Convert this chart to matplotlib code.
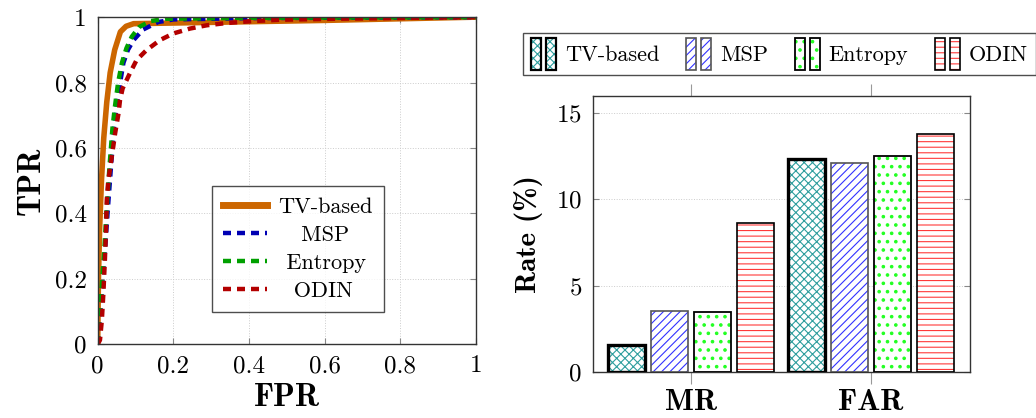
import numpy as np
import matplotlib
matplotlib.use("Agg")
import matplotlib.pyplot as plt
import matplotlib.hatch as mhatch
from matplotlib.patches import Rectangle
from matplotlib.legend_handler import HandlerBase
from matplotlib.ticker import FuncFormatter

plt.rcParams['font.family'] = ['cmr10', 'DejaVu Serif']
plt.rcParams['axes.formatter.use_mathtext'] = True
plt.rcParams['hatch.linewidth'] = 0.8
# slightly bigger dots for the '.' hatch
mhatch.SmallFilledCircles.size = 0.15

# ROC curves
fpr_tv = [0, 0.002, 0.005, 0.01, 0.016, 0.024, 0.033, 0.045, 0.06, 0.075, 0.095, 0.2, 0.4, 0.6, 0.8, 1.0]
tpr_tv = [0, 0.20, 0.35, 0.50, 0.63, 0.74, 0.83, 0.90, 0.955, 0.972, 0.98, 0.982, 0.986, 0.99, 0.995, 1.0]
fpr_msp = [0, 0.004, 0.009, 0.014, 0.019, 0.026, 0.035, 0.043, 0.05, 0.058, 0.068, 0.08, 0.095, 0.12, 0.16, 0.2, 0.4, 1.0]
tpr_msp = [0, 0.06, 0.12, 0.2, 0.28, 0.4, 0.54, 0.66, 0.73, 0.79, 0.86, 0.9, 0.93, 0.962, 0.985, 0.993, 0.997, 1.0]
fpr_ent = [0, 0.003, 0.007, 0.012, 0.017, 0.023, 0.031, 0.039, 0.046, 0.054, 0.064, 0.076, 0.09, 0.11, 0.14, 0.18, 0.4, 1.0]
tpr_ent = [0, 0.06, 0.12, 0.2, 0.28, 0.4, 0.54, 0.66, 0.73, 0.80, 0.86, 0.905, 0.94, 0.97, 0.988, 0.995, 0.998, 1.0]
fpr_odin = [0, 0.006, 0.011, 0.015, 0.019, 0.022, 0.024, 0.028, 0.041, 0.046, 0.055, 0.059, 0.066, 0.085,
            0.103, 0.129, 0.165, 0.2, 0.244, 0.288, 0.341, 0.412, 0.482, 0.623, 1.0]
tpr_odin = [0, 0.012, 0.073, 0.155, 0.257, 0.348, 0.44, 0.50, 0.603, 0.644, 0.705, 0.746, 0.782, 0.828,
            0.869, 0.899, 0.93, 0.95, 0.965, 0.975, 0.982, 0.988, 0.992, 0.995, 1.0]

# bar chart values (%)
metrics = ['MR', 'FAR']
methods = ['TV-based', 'MSP', 'Entropy', 'ODIN']
rate_tv = [1.55, 12.35]
rate_msp = [3.52, 12.1]
rate_ent = [3.47, 12.5]
rate_odin = [8.62, 13.8]

fig = plt.figure(figsize=(10.36, 4.18), dpi=100)

# ---------------- ROC ----------------
ax1 = fig.add_axes([0.0943, 0.177, 0.365, 0.782])
dash = (0, (1.8, 1.35))
ax1.plot(fpr_tv, tpr_tv, color='#CC6600', lw=4.0, label='TV-based', solid_joinstyle='round')
ax1.plot(fpr_msp, tpr_msp, color='#0000B3', lw=3.2, ls=dash, label='   MSP')
ax1.plot(fpr_ent, tpr_ent, color='#00A000', lw=3.2, ls=dash, label=' Entropy')
ax1.plot(fpr_odin, tpr_odin, color='#B30000', lw=3.2, ls=dash, label='  ODIN')
ax1.set_xlim(0, 1)
ax1.set_ylim(0, 1)
ticks = [0, 0.2, 0.4, 0.6, 0.8, 1]
ax1.set_xticks(ticks)
ax1.set_yticks(ticks)
fmt = FuncFormatter(lambda v, p: '%g' % v)
ax1.xaxis.set_major_formatter(fmt)
ax1.yaxis.set_major_formatter(fmt)
ax1.tick_params(direction='in', top=True, right=True, length=4.5, width=0.8,
                color='#888888', labelsize=18, pad=8)
ax1.grid(True, ls=':', color='#cccccc', lw=0.7)
for s in ax1.spines.values():
    s.set_color('#333333')
    s.set_linewidth(1.0)
ax1.set_xlabel('FPR', fontfamily='cmb10', fontsize=23, labelpad=4)
ax1.set_ylabel('TPR', fontfamily='cmb10', fontsize=23, labelpad=6)
leg1 = ax1.legend(loc='lower left', bbox_to_anchor=(0.302, 0.098), borderaxespad=0,
                  fontsize=16, frameon=True, fancybox=False, edgecolor='#222222',
                  handlelength=2.0, handletextpad=0.5, labelspacing=0.38, borderpad=0.5)
leg1.get_frame().set_linewidth(1.0)
leg1.get_lines()[0].set_linewidth(5.0)

# ---------------- bars ----------------
ax2 = fig.add_axes([0.5724, 0.110, 0.364, 0.661])
x = np.arange(len(metrics))
width = 0.206
step = 0.239
styles = [
    dict(vals=rate_tv, hatch='xxxx', hc='#2E9E9E', ec='black', lw=2.4),
    dict(vals=rate_msp, hatch='////', hc='#3333FF', ec='#555555', lw=1.2),
    dict(vals=rate_ent, hatch='..', hc='#22FF22', ec='black', lw=1.3),
    dict(vals=rate_odin, hatch='---', hc='#FF3A3A', ec='black', lw=1.2),
]
for i, st in enumerate(styles):
    pos = x + (i - 1.5) * step
    ax2.bar(pos, st['vals'], width, color='white', edgecolor=st['hc'], hatch=st['hatch'], lw=0, zorder=2)
    ax2.bar(pos, st['vals'], width, fill=False, edgecolor=st['ec'], lw=st['lw'], zorder=3)
ax2.set_xlim(-0.544, 1.55)
ax2.set_ylim(0, 16)
ax2.set_yticks([0, 5, 10, 15])
ax2.set_xticks(x)
ax2.set_xticklabels(metrics, fontfamily='cmb10', fontsize=22)
ax2.tick_params(axis='y', direction='in', right=True, length=4.5, width=0.8,
                color='#888888', labelsize=18, pad=8)
ax2.tick_params(axis='x', direction='out', top=True, length=8.5, width=0.8,
                color='#999999', pad=4)
ax2.grid(True, axis='y', ls=':', color='#cccccc', lw=0.7, zorder=0)
ax2.set_axisbelow(True)
for s in ax2.spines.values():
    s.set_color('#333333')
    s.set_linewidth(1.0)
ax2.set_ylabel('Rate (%)', fontfamily='cmb10', fontsize=21, labelpad=9)


class TwoBars(HandlerBase):
    def __init__(self, hatch, hc, ec, lw):
        super().__init__()
        self.hatch, self.hc, self.ec, self.lw = hatch, hc, ec, lw

    def create_artists(self, legend, orig, xd, yd, w, h, fs, trans):
        arts = []
        bw = w * 0.4
        extra = h * 0.1
        for x0 in (0, w - bw):
            r1 = Rectangle((x0 - xd, -yd - extra), bw, h + 2 * extra, facecolor='white',
                           edgecolor=self.hc, hatch=self.hatch, lw=0, transform=trans)
            r2 = Rectangle((x0 - xd, -yd - extra), bw, h + 2 * extra, fill=False,
                           edgecolor=self.ec, lw=self.lw, transform=trans)
            arts += [r1, r2]
        return arts


handles = [Rectangle((0, 0), 1, 1) for _ in methods]
hmap = {handles[i]: TwoBars(st['hatch'], st['hc'], st['ec'], min(st['lw'], 1.6))
        for i, st in enumerate(styles)}
leg2 = fig.legend(handles, methods, handler_map=hmap, loc='upper left',
                  bbox_to_anchor=(0.5048, 0.921), ncol=4, fontsize=16, frameon=True,
                  fancybox=False, edgecolor='#222222', handlelength=1.13, handleheight=1.45,
                  handletextpad=0.4, columnspacing=1.2, borderpad=0.35, borderaxespad=0)
leg2.get_frame().set_linewidth(1.0)

fig.savefig('out.png', dpi=100)
